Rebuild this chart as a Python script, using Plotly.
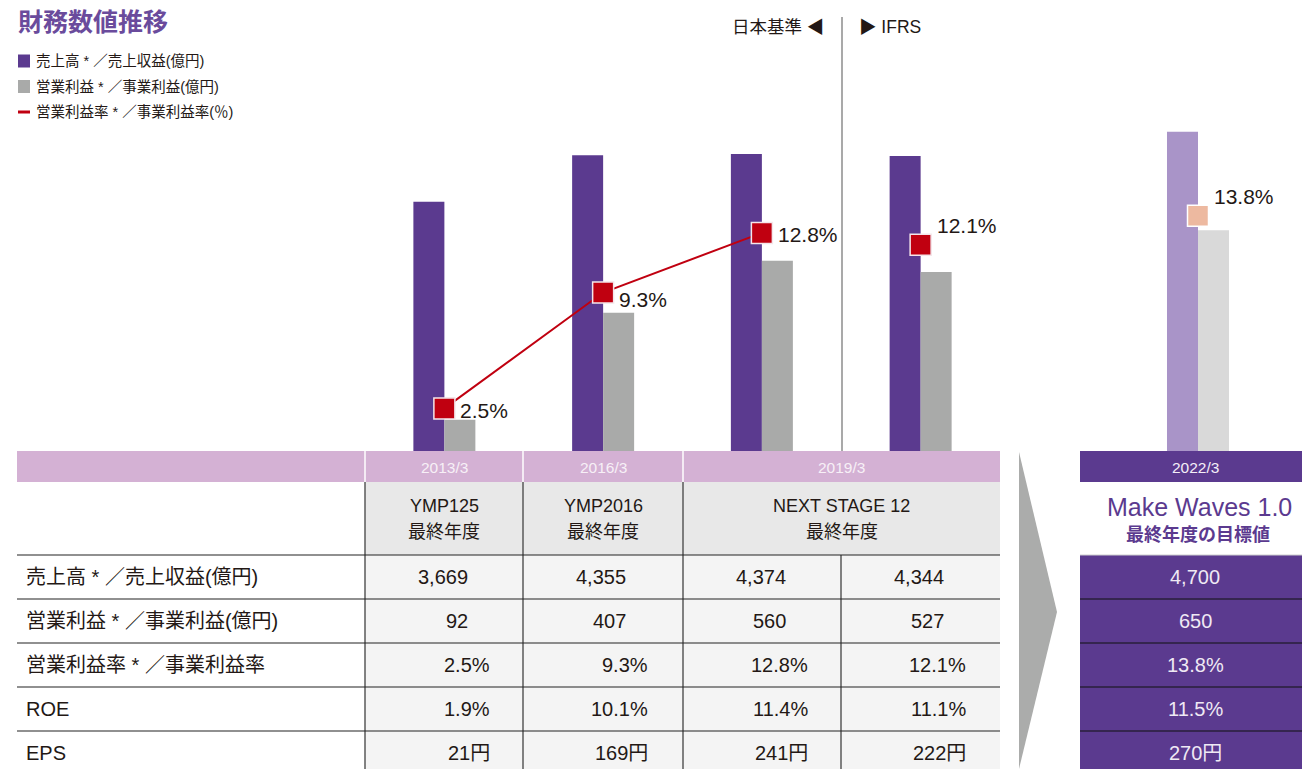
import plotly.graph_objects as go

# --- data ---
periods = ["2013/3", "2016/3", "2019/3"]
standards = ["日本基準", "IFRS"]
plans = ["YMP125", "YMP2016", "NEXT STAGE 12"]
categories = periods[:2] + [periods[2] + " " + s for s in standards]

revenue = [3669, 4355, 4374, 4344]
op_profit = [92, 407, 560, 527]
op_margin = [2.5, 9.3, 12.8, 12.1]
roe = [1.9, 10.1, 11.4, 11.1]
eps = [21, 169, 241, 222]

target_period = "2022/3"
target_plan = "Make Waves 1.0"
target_revenue = 4700
target_profit = 650
target_margin = 13.8
target_roe = 11.5
target_eps = 270

row_labels = ["売上高 * ／売上収益(億円)", "営業利益 * ／事業利益(億円)",
              "営業利益率 * ／事業利益率", "ROE", "EPS"]
legend_labels = ["売上高 * ／売上収益(億円)", "営業利益 * ／事業利益(億円)",
                 "営業利益率 * ／事業利益率(％)"]

# --- styles ---
# the page body has an 8px margin, so the figure is drawn 8px smaller and
# every pixel position below is given in page coordinates
PAGE_OFF = 8
W, H = 1310 - PAGE_OFF, 769 - PAGE_OFF
FONT = "Liberation Sans, Noto Sans CJK JP"
PURPLE = "#5B3A8F"
PURPLE_LIGHT = "#A994C8"
GRAY = "#A9AAA9"
GRAY_LIGHT = "#D9D9D9"
RED = "#C00010"
SALMON = "#EDB9A0"
PINK = "#D4B1D4"
TEXT = "#231815"


def px(x):
    return (x - PAGE_OFF) / W


def py(y):
    return 1 - (y - PAGE_OFF) / H


bw = 31 / 158.75  # bar width in category units

fig = go.Figure()
fig.add_trace(go.Bar(x=categories, y=revenue, xaxis="x", yaxis="y",
                     marker=dict(color=PURPLE, line=dict(width=0)), width=bw, offset=-bw))
fig.add_trace(go.Bar(x=categories, y=op_profit, xaxis="x", yaxis="y2",
                     marker=dict(color=GRAY, line=dict(width=0)), width=bw, offset=0))
fig.add_trace(go.Bar(x=[target_period], y=[target_revenue], xaxis="x2", yaxis="y",
                     marker=dict(color=PURPLE_LIGHT, line=dict(width=0)), width=bw, offset=-bw))
fig.add_trace(go.Bar(x=[target_period], y=[target_profit], xaxis="x2", yaxis="y2",
                     marker=dict(color=GRAY_LIGHT, line=dict(width=0)), width=bw, offset=0))

# margin line (Japanese GAAP years only) + markers
fig.add_trace(go.Scatter(x=categories[:3], y=op_margin[:3], xaxis="x", yaxis="y3",
                         mode="lines", line=dict(color=RED, width=2)))
fig.add_trace(go.Scatter(x=categories, y=op_margin, xaxis="x", yaxis="y3",
                         mode="markers", cliponaxis=False,
                         marker=dict(symbol="square", size=21, color=RED,
                                     line=dict(color="#F4E6EA", width=1.5))))
fig.add_trace(go.Scatter(x=[target_period], y=[target_margin], xaxis="x2", yaxis="y3",
                         mode="markers", cliponaxis=False,
                         marker=dict(symbol="square", size=21, color=SALMON,
                                     line=dict(color="#FFFFFF", width=1.5))))

ydom = [py(451), py(18)]
fig.update_layout(
    width=W, height=H, margin=dict(l=0, r=0, t=0, b=0),
    paper_bgcolor="white", plot_bgcolor="rgba(0,0,0,0)",
    showlegend=False, font=dict(family=FONT, color=TEXT),
    xaxis=dict(domain=[px(365), px(1000)], type="category", range=[-0.5, 3.5],
               visible=False, anchor="y"),
    xaxis2=dict(domain=[px(1118.6), px(1277.4)], type="category", range=[-0.5, 0.5],
                visible=False, anchor="y"),
    yaxis=dict(domain=ydom, range=[0, 6377], visible=False, anchor="x"),
    yaxis2=dict(range=[0, 1275], visible=False, overlaying="y", anchor="x"),
    yaxis3=dict(range=[0, 25.41], visible=False, overlaying="y", anchor="x"),
)

shapes = []
ann = []

# margin labels next to the markers
label_dy = [-2, -7, -1.5, 19]
for cat, v, dy in zip(categories, op_margin, label_dy):
    ann.append(dict(text=f"{v}%", x=cat, y=v, xref="x", yref="y3",
                    xanchor="left", yanchor="middle", xshift=14, yshift=dy,
                    showarrow=False, font=dict(size=21, color=TEXT, family=FONT)))
ann.append(dict(text=f"{target_margin}%", x=target_period, y=target_margin,
                xref="x2", yref="y3", xanchor="left", yanchor="middle",
                xshift=14, yshift=19, showarrow=False,
                font=dict(size=21, color=TEXT, family=FONT)))


def rect(x0, y0, x1, y1, color):
    shapes.append(dict(type="rect", xref="paper", yref="paper", layer="below",
                       x0=px(x0), x1=px(x1), y0=py(y1), y1=py(y0),
                       fillcolor=color, line=dict(width=0)))


def line(x0, y0, x1, y1, color, width=1.2):
    shapes.append(dict(type="line", xref="paper", yref="paper",
                       x0=px(x0), x1=px(x1), y0=py(y0), y1=py(y1),
                       line=dict(color=color, width=width)))


def note(text, x, y, size, color=TEXT, xanchor="center"):
    ann.append(dict(text=text, x=px(x), y=py(y), xref="paper", yref="paper",
                    xanchor=xanchor, yanchor="middle", showarrow=False,
                    font=dict(size=size, color=color, family=FONT)))


# title and legend
note("<b>財務数値推移</b>", 16, 22, 25, color="#6A4B9C", xanchor="left")
for i, (lab, col) in enumerate(zip(legend_labels, [PURPLE, GRAY, RED])):
    yc = 61 + i * 25.5
    if i < 2:
        rect(18, yc - 6.5, 30, yc + 6.5, col)
    else:
        rect(18, yc - 1.5, 30, yc + 1.5, col)
    note(lab, 34, yc, 14.5, xanchor="left")

# accounting standard divider
line(842, 17, 842, 451, "#8C8C8C", 1.5)
note(standards[0] + " ◀", 826, 27, 17.5, xanchor="right")
note("▶ " + standards[1], 857, 27, 17.5, xanchor="left")

# table backgrounds
edges = [365, 523, 683, 841, 1000]
row_tops = [555, 599, 643, 687, 731]
rect(17, 451, 1000, 482, PINK)
rect(365, 482, 1000, 555, "#E8E8E8")
rect(365, 555, 1000, 769, "#F4F4F4")
rect(1080, 451, 1310, 482, PURPLE)
rect(1080, 555, 1310, 769, PURPLE)
for x in edges[:3]:
    line(x, 451, x, 482, "white", 1.5)
for x in edges[:3]:
    line(x, 482, x, 769, "#5A5A5A", 1.5)
line(841, 555, 841, 769, "#5A5A5A", 1.5)
for i, y in enumerate(row_tops):
    line(17, y, 1000, y, "#222222", 1.2)
    if i > 0:
        line(1080, y, 1310, y, "#111111", 1.2)
line(1080, 555, 1310, 555, "#CFCFCF", 1.2)

# arrow
shapes.append(dict(type="path", xref="paper", yref="paper", layer="below",
                   path=f"M {px(1019)} {py(452)} L {px(1057)} {py(612)} L {px(1019)} {py(769)} Z",
                   fillcolor="#ABACAB", line=dict(width=0)))

# header band and plan names
band_spans = [(365, 523), (523, 683), (683, 1000)]
for (a, b), per, plan in zip(band_spans, periods, plans):
    c = (a + b) / 2
    note(per, c, 467, 15.5, color="#F7F0F7")
    note(plan, c, 506, 18)
    note("最終年度", c, 532, 18)
note(target_period, 1195, 467, 15.5, color="#F4EEF8")
note(target_plan, 1199, 507, 25, color=PURPLE)
note("<b>最終年度の目標値</b>", 1198, 534, 18, color=PURPLE)

# table rows
rows = [
    [f"{v:,}" for v in revenue],
    [f"{v:,}" for v in op_profit],
    [f"{v:.1f}%" for v in op_margin],
    [f"{v:.1f}%" for v in roe],
    [f"{v}円" for v in eps],
]
targets = [f"{target_revenue:,}", f"{target_profit:,}", f"{target_margin:.1f}%",
           f"{target_roe:.1f}%", f"{target_eps}円"]
for r, (lab, vals, tv) in enumerate(zip(row_labels, rows, targets)):
    yc = row_tops[r] + 22
    note(lab, 24, yc, 20, xanchor="left")
    off = 105 if r < 2 else 127
    for c, v in enumerate(vals):
        note(v, edges[c] + off, yc, 20, xanchor="right")
    note(tv, 1195, yc, 20, color="#EFE9F4")

fig.update_layout(shapes=shapes, annotations=ann)
fig.write_html("out.html", config={"displayModeBar": False})
